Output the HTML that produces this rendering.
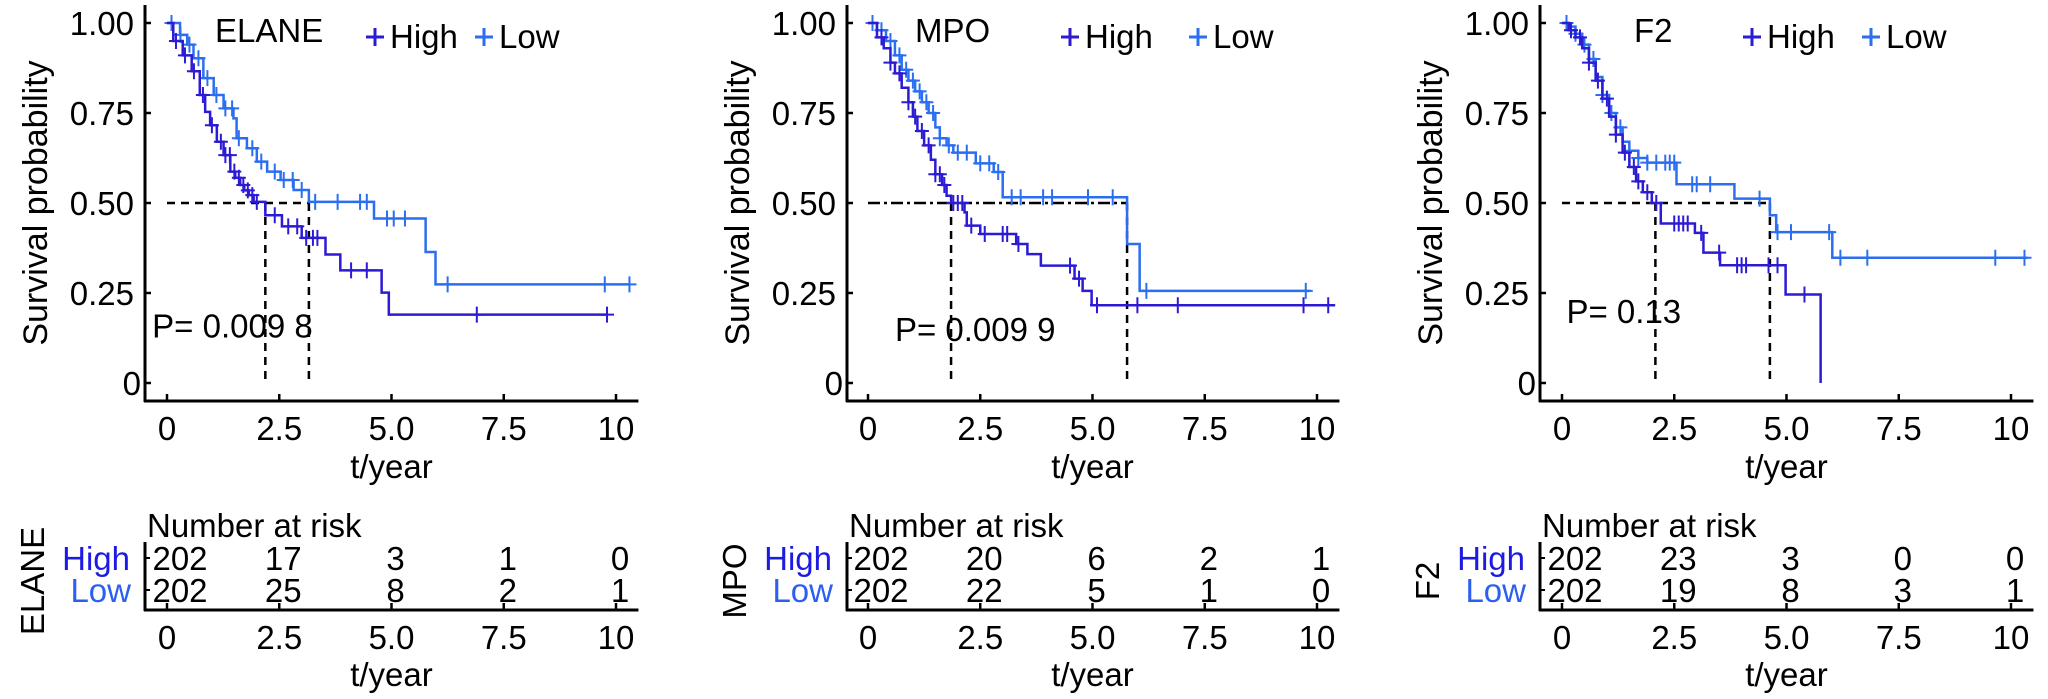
<!DOCTYPE html>
<html><head><meta charset="utf-8"><style>
html,body{margin:0;padding:0;background:#fff;}
svg{display:block;font-family:"Liberation Sans",sans-serif;}
</style></head><body>
<svg id="fig" width="2048" height="699" viewBox="0 0 2048 699" xmlns="http://www.w3.org/2000/svg"></svg>
<script>
// ---- data ----
const xTicks = [0, 2.5, 5, 7.5, 10];
const xTickLabels = ["0", "2.5", "5.0", "7.5", "10"];
const yTicks = [0, 0.25, 0.5, 0.75, 1];
const yTickLabels = ["0", "0.25", "0.50", "0.75", "1.00"];

const elaneHighT = [0.14,0.35,0.55,0.73,0.85,0.96,1.11,1.26,1.41,1.52,1.63,1.72,1.82,1.93,2.19,2.56,3.0,3.53,3.86,4.78,4.94];
const elaneHighS = [0.95,0.91,0.866,0.80,0.753,0.716,0.67,0.633,0.587,0.57,0.55,0.535,0.522,0.503,0.466,0.435,0.403,0.357,0.313,0.251,0.19];
const elaneHighEnd = 9.8;
const elaneHighCens = [0.2,0.4,0.6,0.8,1.0,1.2,1.3,1.4,1.5,1.6,1.7,1.8,1.9,2.0,2.4,2.7,2.9,3.1,3.25,3.35,4.1,4.45,6.9,9.8];
const elaneLowT = [0.29,0.45,0.59,0.81,1.04,1.26,1.48,1.55,1.78,2.0,2.23,2.53,2.82,3.16,4.61,5.76,5.98];
const elaneLowS = [0.967,0.94,0.902,0.847,0.80,0.763,0.735,0.68,0.652,0.615,0.587,0.564,0.536,0.503,0.457,0.364,0.274];
const elaneLowEnd = 10.3;
const elaneLowCens = [0.1,0.3,0.5,0.7,0.9,1.1,1.3,1.45,1.6,1.9,2.1,2.4,2.6,2.8,3.0,3.3,3.8,4.3,4.45,4.9,5.05,5.3,6.25,9.75,10.3];
const elaneMedians = [2.19, 3.16];
const elaneRiskHigh = [202, 17, 3, 1, 0];
const elaneRiskLow = [202, 25, 8, 2, 1];

const mpoHighT = [0.2,0.35,0.5,0.6,0.75,0.9,1.0,1.1,1.25,1.4,1.5,1.65,1.75,1.85,2.15,2.2,2.5,3.3,3.55,3.85,4.6,4.78,4.98];
const mpoHighS = [0.96,0.93,0.89,0.86,0.82,0.78,0.74,0.70,0.66,0.62,0.58,0.55,0.52,0.50,0.474,0.437,0.414,0.386,0.358,0.326,0.29,0.256,0.216];
const mpoHighEnd = 10.4;
const mpoHighCens = [0.3,0.5,0.7,0.9,1.05,1.2,1.35,1.5,1.6,1.7,1.9,2.0,2.1,2.3,2.6,3.0,3.1,3.35,4.5,4.7,5.1,6.0,6.9,9.7,10.25];
const mpoLowT = [0.2,0.4,0.6,0.75,0.9,1.05,1.2,1.35,1.5,1.6,1.75,1.9,2.4,2.8,3.0,5.77,6.05];
const mpoLowS = [0.98,0.95,0.91,0.87,0.84,0.81,0.78,0.75,0.71,0.68,0.66,0.64,0.61,0.586,0.516,0.386,0.256];
const mpoLowEnd = 9.85;
const mpoLowCens = [0.1,0.3,0.5,0.7,0.85,1.0,1.15,1.3,1.45,1.6,1.8,2.0,2.2,2.5,2.7,2.9,3.2,3.4,3.9,4.1,4.9,5.45,6.2,9.75];
const mpoMedians = [1.85, 5.77];
const mpoRiskHigh = [202, 20, 6, 2, 1];
const mpoRiskLow = [202, 22, 5, 1, 0];

const f2HighT = [0.15,0.3,0.45,0.6,0.75,0.9,1.05,1.2,1.35,1.5,1.65,1.8,2.0,2.2,2.96,3.15,3.52,4.98,5.76];
const f2HighS = [0.98,0.96,0.93,0.89,0.84,0.79,0.74,0.69,0.64,0.60,0.56,0.53,0.50,0.443,0.417,0.362,0.327,0.246,0];
const f2HighEnd = 5.76;
const f2HighCens = [0.2,0.4,0.6,0.8,1.0,1.2,1.4,1.6,1.7,1.9,2.1,2.5,2.6,2.7,2.8,3.1,3.5,3.9,4.0,4.1,4.6,4.8,5.4];
const f2LowT = [0.15,0.3,0.45,0.6,0.75,0.9,1.05,1.2,1.35,1.5,1.7,1.9,2.55,3.84,4.63,4.77,6.02];
const f2LowS = [0.99,0.97,0.94,0.90,0.85,0.80,0.75,0.71,0.67,0.645,0.625,0.612,0.552,0.512,0.466,0.419,0.348];
const f2LowEnd = 10.37;
const f2LowCens = [0.1,0.3,0.5,0.7,0.9,1.1,1.3,1.5,1.7,1.9,2.1,2.3,2.4,2.5,2.9,3.0,3.3,4.4,4.8,5.1,5.95,6.2,6.8,9.65,10.3];
const f2Medians = [2.08, 4.63];
const f2RiskHigh = [202, 23, 3, 0, 0];
const f2RiskLow = [202, 19, 8, 3, 1];

// ---- drawing ----
const NS = "http://www.w3.org/2000/svg";
const svg = document.getElementById("fig");
const HIGH = "#2c1bd3", LOW = "#2b6ff0";
const FS = 33;
function mk(tag, attrs, parent) {
  const e = document.createElementNS(NS, tag);
  for (const k in attrs) e.setAttribute(k, attrs[k]);
  (parent || svg).appendChild(e);
  return e;
}
function txt(str, attrs, parent) { const e = mk("text", attrs, parent); e.textContent = str; return e; }

const panels = [
  {key:"elane", title:"ELANE", axisX:145, x0:167, titleX:215, legHighX:375, legLowX:484, pText:"P= 0.009 8", pT:-0.33, pS:0.16,
   highT:elaneHighT, highS:elaneHighS, highEnd:elaneHighEnd, highC:elaneHighCens,
   lowT:elaneLowT, lowS:elaneLowS, lowEnd:elaneLowEnd, lowC:elaneLowCens, med:elaneMedians, rH:elaneRiskHigh, rL:elaneRiskLow, dash:"8,6"},
  {key:"mpo", title:"MPO", axisX:847, x0:868, titleX:915, legHighX:1070, legLowX:1198, pText:"P= 0.009 9", pT:0.6, pS:0.15,
   highT:mpoHighT, highS:mpoHighS, highEnd:mpoHighEnd, highC:mpoHighCens,
   lowT:mpoLowT, lowS:mpoLowS, lowEnd:mpoLowEnd, lowC:mpoLowCens, med:mpoMedians, rH:mpoRiskHigh, rL:mpoRiskLow, dash:"12,4,3,4"},
  {key:"f2", title:"F2", axisX:1540, x0:1562, titleX:1634, legHighX:1752, legLowX:1871, pText:"P= 0.13", pT:0.1, pS:0.2,
   highT:f2HighT, highS:f2HighS, highEnd:f2HighEnd, highC:f2HighCens,
   lowT:f2LowT, lowS:f2LowS, lowEnd:f2LowEnd, lowC:f2LowCens, med:f2Medians, rH:f2RiskHigh, rL:f2RiskLow, dash:"8,6"}
];
const UNIT = 44.9, Y1 = 23, Y0 = 383, XAXIS_Y = 401;

panels.forEach(p => {
  const g = mk("g", {});
  
  
  const X = t => p.x0 + t * UNIT;
  const Y = s => Y0 - s * (Y0 - Y1);
  const ya = mk("line", {x1:p.axisX, y1:5, x2:p.axisX, y2:XAXIS_Y+1, stroke:"#000", "stroke-width":3}, g);
  
  
  const xa = mk("line", {x1:p.axisX-1, y1:XAXIS_Y, x2:X(10.5), y2:XAXIS_Y, stroke:"#000", "stroke-width":3}, g);
  
  
  yTicks.forEach((v, i) => {
    mk("line", {x1:p.axisX, y1:Y(v), x2:p.axisX+6, y2:Y(v), stroke:"#000", "stroke-width":2.5}, g);
    const l = txt(yTickLabels[i], {x: v === 0 ? p.axisX-4 : p.axisX-11, y:Y(v)+12, "font-size":FS, "text-anchor":"end"}, g);
    
    
  });
  xTicks.forEach((v, i) => {
    mk("line", {x1:X(v), y1:XAXIS_Y, x2:X(v), y2:XAXIS_Y-7, stroke:"#000", "stroke-width":2.5}, g);
    const l = txt(xTickLabels[i], {x:X(v), y:440, "font-size":FS, "text-anchor":"middle"}, g);
    
    
  });
  const xt = txt("t/year", {x:X(5), y:478, "font-size":FS, "text-anchor":"middle"}, g);
  
  
  const yt = txt("Survival probability", {x:0, y:0, "font-size":34, "text-anchor":"middle", transform:`translate(${p.axisX-98},${Y(0.5)}) rotate(-90)`}, g);
  
  

  const mx = Math.max(...p.med);
  const mh = mk("line", {x1:X(0), y1:Y(0.5), x2:X(mx), y2:Y(0.5), stroke:"#000", "stroke-width":2.5, "stroke-dasharray":p.dash}, g);
  
  
  p.med.forEach(m => {
    const mv = mk("line", {x1:X(m), y1:Y(0.5), x2:X(m), y2:Y(0), stroke:"#000", "stroke-width":2.5, "stroke-dasharray":"8,6"}, g);
    
    
  });

  function curve(T, S, end, C, color, name) {
    let d = `M${X(0)},${Y(1)}`;
    for (let i = 0; i < T.length; i++) d += ` H${X(T[i])} V${Y(S[i])}`;
    d += ` H${X(end)}`;
    const path = mk("path", {d, fill:"none", stroke:color, "stroke-width":2.5}, g);
    
    
    C.forEach(c => {
      let s = 1;
      for (let i = 0; i < T.length; i++) if (T[i] <= c) s = S[i];
      const cx = X(c), cy = Y(s);
      const m = mk("path", {d:`M${cx},${cy-8} V${cy+8} M${cx-7},${cy} H${cx+7}`, stroke:color, "stroke-width":2}, g);
      
      
    });
  }
  curve(p.lowT, p.lowS, p.lowEnd, p.lowC, LOW, "low");
  curve(p.highT, p.highS, p.highEnd, p.highC, HIGH, "high");

  const tt = txt(p.title, {x:p.titleX, y:42, "font-size":FS}, g);
  
  
  [[p.legHighX, HIGH, "High"], [p.legLowX, LOW, "Low"]].forEach(([lx, col, lab]) => {
    const lg = mk("g", {}, g);
    
    
    mk("path", {d:`M${lx-9},37 H${lx+9} M${lx},28 V46`, stroke:col, "stroke-width":3}, lg);
    txt(lab, {x:lx+15, y:48, "font-size":FS}, lg);
  });
  const pv = txt(p.pText, {x:X(p.pT), y:Y(p.pS)+12, "font-size":FS}, g);
  
  

  const RA_Y = 610;
  const rt = txt("Number at risk", {x:p.axisX+2, y:537, "font-size":FS}, g);
  
  
  mk("line", {x1:p.axisX, y1:542, x2:p.axisX, y2:RA_Y+1, stroke:"#000", "stroke-width":3}, g);
  mk("line", {x1:p.axisX-1, y1:RA_Y, x2:X(10.5), y2:RA_Y, stroke:"#000", "stroke-width":3}, g);
  mk("line", {x1:p.axisX, y1:558, x2:p.axisX+5, y2:558, stroke:"#000", "stroke-width":2}, g);
  mk("line", {x1:p.axisX, y1:590, x2:p.axisX+5, y2:590, stroke:"#000", "stroke-width":2}, g);
  const hl = txt("High", {x:p.axisX-15, y:570, "font-size":FS, "text-anchor":"end", fill:"#1d1be2"}, g);
  
  
  const ll = txt("Low", {x:p.axisX-14, y:602, "font-size":FS, "text-anchor":"end", fill:"#2a5ff0"}, g);
  
  
  const gn = txt(p.title, {x:0, y:0, "font-size":FS, "text-anchor":"middle", transform:`translate(${p.axisX-101},581) rotate(-90)`}, g);
  
  
  xTicks.forEach((v, i) => {
    const off = i === 0 ? 13 : 4;
    const a = txt(String(p.rH[i]), {x:X(v)+off, y:570, "font-size":FS, "text-anchor":"middle"}, g);
    
    
    const b = txt(String(p.rL[i]), {x:X(v)+off, y:602, "font-size":FS, "text-anchor":"middle"}, g);
    
    
    mk("line", {x1:X(v), y1:RA_Y, x2:X(v), y2:RA_Y-7, stroke:"#000", "stroke-width":2.5}, g);
    const l = txt(xTickLabels[i], {x:X(v), y:649, "font-size":FS, "text-anchor":"middle"}, g);
    
    
  });
  const rx = txt("t/year", {x:X(5), y:686, "font-size":FS, "text-anchor":"middle"}, g);
  
  
});
</script>
</body></html>
